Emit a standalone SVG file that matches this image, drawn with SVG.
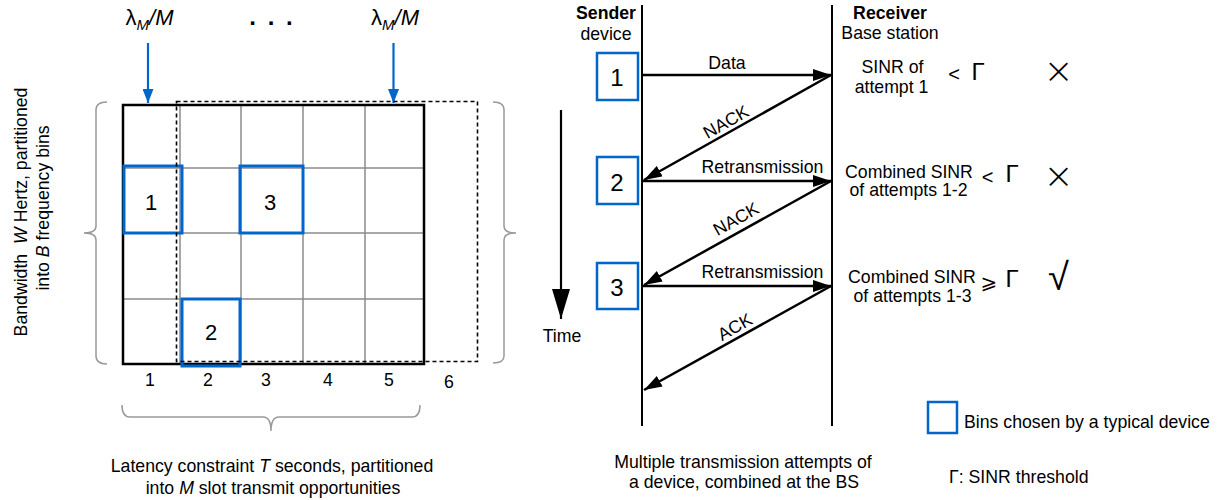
<svg xmlns="http://www.w3.org/2000/svg" width="1222" height="500" viewBox="0 0 1222 500">
<defs>
<style>
text{font-family:"Liberation Sans",Arial,sans-serif;font-size:17.7px;fill:#000}
.c{text-anchor:middle}
.b{font-weight:bold}
.i{font-style:italic}
.grid{stroke:#8c8c8c;stroke-width:1.5;fill:none}
.brace{stroke:#999;stroke-width:1.5;fill:none}
.blue{stroke:#0066cc;stroke-width:3;fill:none}
.life{stroke:#000;stroke-width:2}
.msg{stroke:#000;stroke-width:2.5;fill:none;marker-end:url(#ah)}
text.num{font-size:22px}
text.snum{font-size:24px}
text.lam{font-size:22px}
tspan.sub{font-size:15px}
text.sym{font-size:24px}
text.lt{font-size:20px}
text.ge{font-size:20px;font-family:"DejaVu Sans",sans-serif}
text.cross{font-size:36px;font-family:"DejaVu Sans",sans-serif;font-weight:200}
text.check{font-size:38px;font-family:"DejaVu Sans",sans-serif;font-weight:200}
text.dots{font-size:24px;font-weight:bold}
</style>
<marker id="ah" viewBox="0 0 18 12" refX="18" refY="6" markerWidth="18" markerHeight="12" markerUnits="userSpaceOnUse" orient="auto">
<path d="M0,0 L18,6 L0,12 z" fill="#000"/>
</marker>
<marker id="bh" viewBox="0 0 14 11" refX="14" refY="5.5" markerWidth="14" markerHeight="11" markerUnits="userSpaceOnUse" orient="auto">
<path d="M0,0 L14,5.5 L0,11 z" fill="#0066cc"/>
</marker>
<marker id="th" viewBox="0 0 30 18" refX="30" refY="9" markerWidth="30" markerHeight="18" markerUnits="userSpaceOnUse" orient="auto">
<path d="M0,0 L30,9 L0,18 z" fill="#000"/>
</marker>
</defs>
<rect width="1222" height="500" fill="#fff"/>

<g id="arrival-labels">
<text class="c lam" x="149.5" y="25">λ<tspan class="i sub" dy="5">M</tspan><tspan class="i" dy="-5">/M</tspan></text>
<text class="c dots" x="271" y="25" word-spacing="5">. . .</text>
<text class="c lam" x="395" y="25">λ<tspan class="i sub" dy="5">M</tspan><tspan class="i" dy="-5">/M</tspan></text>
<line x1="148" y1="43" x2="148" y2="103" stroke="#0066cc" stroke-width="2.2" marker-end="url(#bh)"/>
<line x1="393.5" y1="43" x2="393.5" y2="103" stroke="#0066cc" stroke-width="2.2" marker-end="url(#bh)"/>
</g>

<g id="grid">
<path class="grid" d="M180,105V364M241,105V364M303,105V364M365,105V364M123,168H424M123,233H424M123,299H424"/>
<rect x="123" y="105" width="301" height="259" fill="none" stroke="#000" stroke-width="2.5"/>
</g>

<g id="bins">
<rect class="blue" x="124" y="166" width="58" height="67"/>
<rect class="blue" x="240" y="166" width="63" height="67"/>
<rect class="blue" x="182" y="299" width="58" height="67"/>
<text class="c num" x="151" y="210">1</text>
<text class="c num" x="270" y="210">3</text>
<text class="c num" x="211" y="340">2</text>
</g>

<g id="shifted-frame">
<rect x="176.5" y="101.5" width="301" height="260" fill="none" stroke="#000" stroke-width="1.6" stroke-dasharray="4,3"/>
</g>

<g id="slot-numbers">
<text class="c" x="150" y="386">1</text>
<text class="c" x="208" y="386">2</text>
<text class="c" x="266" y="386">3</text>
<text class="c" x="328" y="386">4</text>
<text class="c" x="389" y="386">5</text>
<text class="c" x="449" y="388">6</text>
</g>

<g id="braces">
<path class="brace" d="M107,102 Q96,102 96,110 L96,226 Q96,233 84,233 Q96,233 96,240 L96,356 Q96,364 107,364"/>
<path class="brace" d="M493,102 Q504,102 504,110 L504,226 Q504,233 516,233 Q504,233 504,240 L504,356 Q504,363 493,363"/>
<path class="brace" d="M122,405 Q122,417 130,417 L263,417 Q271,417 271,431 Q271,417 279,417 L412,417 Q420,417 420,405"/>
</g>

<g id="bandwidth-label">
<text class="c" transform="translate(27,212) rotate(-90)">Bandwidth <tspan class="i" dx="5">W</tspan> Hertz, partitioned</text>
<text class="c" transform="translate(48.5,208) rotate(-90)">into <tspan class="i">B</tspan> frequency bins</text>
</g>

<g id="latency-label">
<text class="c" x="272" y="472">Latency constraint <tspan class="i">T</tspan> seconds, partitioned</text>
<text class="c" x="273" y="494">into <tspan class="i">M</tspan> slot transmit opportunities</text>
</g>

<g id="sender">
<text class="c b" x="606" y="19">Sender</text>
<text class="c" x="606" y="40">device</text>
<line class="life" x1="642" y1="5" x2="642" y2="426"/>
</g>

<g id="receiver">
<text class="c b" x="890" y="19">Receiver</text>
<text class="c" x="890" y="39">Base station</text>
<line class="life" x1="832" y1="5" x2="832" y2="426"/>
</g>

<g id="attempt1">
<rect x="597" y="53" width="41" height="47" fill="none" stroke="#0066cc" stroke-width="2.5"/>
<text class="c snum" x="617" y="86">1</text>
</g>
<g id="attempt2">
<rect x="597" y="157" width="41" height="47" fill="none" stroke="#0066cc" stroke-width="2.5"/>
<text class="c snum" x="617" y="191">2</text>
</g>
<g id="attempt3">
<rect x="597" y="263" width="41" height="46" fill="none" stroke="#0066cc" stroke-width="2.5"/>
<text class="c snum" x="617" y="296">3</text>
</g>

<g id="time-axis">
<line x1="561" y1="110" x2="561" y2="319" stroke="#000" stroke-width="2.2" marker-end="url(#th)"/>
<text class="c" x="562" y="342">Time</text>
</g>

<g id="connectors">
<line class="msg" x1="643" y1="75" x2="831" y2="75"/>
<line class="msg" x1="831" y1="75" x2="644" y2="180"/>
<line class="msg" x1="643" y1="181" x2="831" y2="181"/>
<line class="msg" x1="831" y1="181" x2="644" y2="285"/>
<line class="msg" x1="643" y1="286" x2="831" y2="286"/>
<line class="msg" x1="831" y1="286" x2="644" y2="390"/>
<text class="c" x="727" y="69">Data</text>
<text class="c" transform="translate(726,122) rotate(-29.3)" y="6">NACK</text>
<text class="c" x="762.5" y="173">Retransmission</text>
<text class="c" transform="translate(736,219) rotate(-29.3)" y="6">NACK</text>
<text class="c" x="762.5" y="278">Retransmission</text>
<text class="c" transform="translate(735,327) rotate(-29.3)" y="6">ACK</text>
</g>

<g id="result1">
<text class="c" x="892.5" y="73">SINR of</text>
<text class="c" x="891.5" y="93">attempt 1</text>
<text class="c lt" x="954" y="81">&lt;</text>
<text class="c sym" x="978" y="80">Γ</text>
<text class="c cross" x="1058.5" y="83">×</text>
</g>
<g id="result2">
<text class="c" x="909" y="178">Combined SINR</text>
<text class="c" x="908.5" y="196">of attempts 1-2</text>
<text class="c lt" x="987.5" y="184">&lt;</text>
<text class="c sym" x="1012" y="182">Γ</text>
<text class="c cross" x="1058.5" y="188">×</text>
</g>
<g id="result3">
<text class="c" x="912" y="283">Combined SINR</text>
<text class="c" x="912.5" y="302">of attempts 1-3</text>
<text class="c ge" x="989" y="289">⩾</text>
<text class="c sym" x="1012" y="287">Γ</text>
<text class="c check" x="1058.5" y="290">√</text>
</g>

<g id="caption-middle">
<text class="c" x="743" y="468">Multiple transmission attempts of</text>
<text class="c" x="744" y="488">a device, combined at the BS</text>
</g>

<g id="legend">
<rect x="928" y="402" width="29" height="31" fill="none" stroke="#0066cc" stroke-width="2.5"/>
<text x="964" y="428">Bins chosen by a typical device</text>
<text x="949" y="483">Γ: SINR threshold</text>
</g>
</svg>
